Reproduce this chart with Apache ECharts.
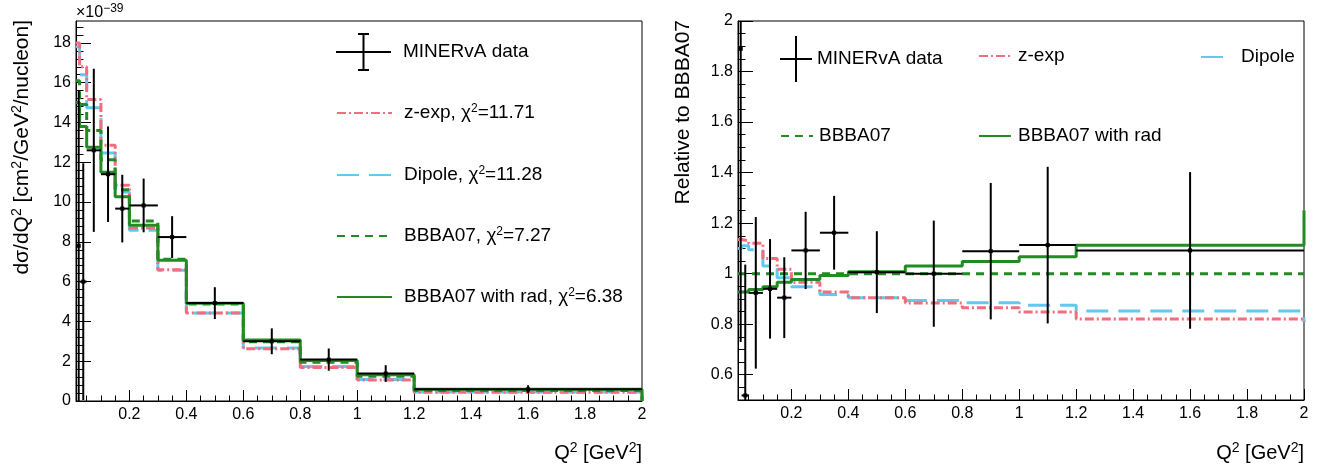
<!DOCTYPE html>
<html>
<head>
<meta charset="utf-8">
<script src="https://cdn.jsdelivr.net/npm/echarts@6.0.0/dist/echarts.min.js"></script>
<style>
  html, body { margin: 0; padding: 0; background: #fff; }
  #chart { width: 1326px; height: 470px; }
</style>
</head>
<body>
<div id="chart"></div>
<script>
// Q2 bin edges [GeV^2]
const binEdges = [0.0125, 0.025, 0.05, 0.1, 0.15, 0.2, 0.3, 0.4, 0.6, 0.8, 1.0, 1.2, 2.0];

// MINERvA data (x 1e-39 cm2/GeV2/nucleon)
const dataQ2 = [0.022, 0.038, 0.075, 0.125, 0.175, 0.25, 0.35, 0.5, 0.7, 0.9, 1.1, 1.6];
const dataXsec = [7.8, 6.0, 12.6, 11.4, 9.67, 9.83, 8.24, 4.92, 3.0, 2.08, 1.38, 0.59];
const dataErr = [7.8, 5.95, 4.1, 2.4, 1.7, 1.35, 1.05, 0.8, 0.65, 0.56, 0.42, 0.2];
// data / BBBA07
const dataRatio = [1.89, 0.518, 0.924, 0.94, 0.905, 1.092, 1.162, 1.006, 1.0, 1.089, 1.113, 1.092];
const dataRatioErr = [1.16, 0.518, 0.30, 0.197, 0.16, 0.153, 0.146, 0.162, 0.21, 0.27, 0.31, 0.31];

// model cross sections per bin
const zexpXsec = [18.0, 16.8, 15.15, 12.85, 10.84, 8.7, 6.6, 4.42, 2.63, 1.69, 1.05, 0.435];
const dipoleXsec = [17.8, 16.4, 14.74, 12.46, 10.5, 8.58, 6.57, 4.42, 2.66, 1.73, 1.085, 0.45];
const bbbaXsec = [16.1, 14.9, 13.6, 12.13, 10.62, 9.05, 7.12, 4.87, 2.98, 1.95, 1.24, 0.53];
const radXsec = [15.0, 13.8, 12.75, 11.5, 10.26, 8.84, 7.07, 4.91, 3.07, 2.04, 1.32, 0.59];

// model / BBBA07
const zexpRatio = [1.135, 1.13, 1.12, 1.06, 1.017, 0.966, 0.927, 0.905, 0.884, 0.865, 0.848, 0.821];
const dipoleRatio = [1.10, 1.11, 1.095, 1.03, 0.984, 0.948, 0.918, 0.905, 0.894, 0.885, 0.875, 0.852];
const bbbaRatio = [1, 1, 1, 1, 1, 1, 1, 1, 1, 1, 1, 1];
const radRatio = [0.927, 0.927, 0.9375, 0.948, 0.966, 0.977, 0.993, 1.008, 1.03, 1.048, 1.067, 1.112];
// where each ratio curve ends at Q2 = 2
const ratioEnds = { zexp: 0.81, dipole: 0.807, bbba: 1, rad: 1.25 };

const modelNames = ['z-exp', 'Dipole', 'BBBA07', 'BBBA07 with rad'];
const modelChi2 = ['11.71', '11.28', '7.27', '6.38'];

// axis ticks
const xTicks = [0.2, 0.4, 0.6, 0.8, 1, 1.2, 1.4, 1.6, 1.8, 2];
const yTicksXsec = [0, 2, 4, 6, 8, 10, 12, 14, 16, 18];
const yTicksRatio = [0.6, 0.8, 1, 1.2, 1.4, 1.6, 1.8, 2];

const FONT = '"Liberation Sans", Arial, Helvetica, sans-serif';
const colors = { zexp: '#f26d7d', dipole: '#62c8ef', bbba: '#238b23', rad: '#238b23' };
const X_MIN = 0.0125, X_MAX = 2;

function range(a, b, step) {
  const out = [];
  for (let v = a; v <= b + 1e-9; v += step) out.push(+v.toFixed(4));
  return out;
}
const fmt = v => String(+(+v).toFixed(2));

function steps(vals, endVal) {
  const pts = vals.map((v, i) => [binEdges[i], v]);
  const last = binEdges[binEdges.length - 1];
  pts.push([last, vals[vals.length - 1]]);
  pts.push([last, endVal]);
  return pts;
}

function errData(y, err) {
  return dataQ2.map((x, i) => [x, y[i], binEdges[i], binEdges[i + 1], err[i]]);
}

function renderErr(params, api) {
  const cs = params.coordSys;
  const clampY = v => Math.max(cs.y, Math.min(cs.y + cs.height, v));
  const x = api.value(0), y = api.value(1), e = api.value(4);
  const c = api.coord([x, y]);
  const l = api.coord([api.value(2), y]);
  const r = api.coord([api.value(3), y]);
  const t = api.coord([x, y + e]);
  const b = api.coord([x, y - e]);
  const st = { stroke: '#000', lineWidth: 2 };
  const kids = [{
    type: 'line',
    shape: { x1: c[0], y1: clampY(t[1]), x2: c[0], y2: clampY(b[1]) },
    style: st
  }];
  if (c[1] >= cs.y && c[1] <= cs.y + cs.height) {
    kids.push({ type: 'line', shape: { x1: l[0], y1: c[1], x2: r[0], y2: c[1] }, style: st });
    kids.push({ type: 'rect', shape: { x: c[0] - 2, y: c[1] - 2, width: 4, height: 4 }, style: { fill: '#000' } });
  }
  return { type: 'group', children: kids };
}

function xAxes(grid) {
  return [{
    type: 'value', gridIndex: grid, min: X_MIN, max: X_MAX, position: 'bottom',
    axisLine: { show: true, onZero: false, lineStyle: { color: '#000', width: 1 } },
    axisTick: { show: true, inside: true, length: 11, customValues: xTicks, lineStyle: { color: '#000' } },
    axisLabel: { show: true, customValues: xTicks, margin: 6, color: '#000', fontSize: 16, fontFamily: FONT, formatter: fmt },
    splitLine: { show: false }
  }, {
    type: 'value', gridIndex: grid, min: X_MIN, max: X_MAX, position: 'bottom',
    axisLine: { show: false, onZero: false },
    axisTick: { show: true, inside: true, length: 5.5, customValues: range(0.05, 1.95, 0.05), lineStyle: { color: '#000' } },
    axisLabel: { show: false },
    splitLine: { show: false }
  }];
}

function yAxes(grid, min, max, ticks, minorStep) {
  return [{
    type: 'value', gridIndex: grid, min: min, max: max, position: 'left',
    axisLine: { show: true, onZero: false, lineStyle: { color: '#000', width: 1 } },
    axisTick: { show: true, inside: true, length: 15, customValues: ticks, lineStyle: { color: '#000' } },
    axisLabel: { show: true, customValues: ticks, margin: 5, color: '#000', fontSize: 16, fontFamily: FONT, formatter: fmt },
    splitLine: { show: false }
  }, {
    type: 'value', gridIndex: grid, min: min, max: max, position: 'left',
    axisLine: { show: false, onZero: false },
    axisTick: { show: true, inside: true, length: 7.5, customValues: range(min, max, minorStep), lineStyle: { color: '#000' } },
    axisLabel: { show: false },
    splitLine: { show: false }
  }];
}

const lineDefs = [
  { key: 'dipole', name: 'Dipole', type: [22, 10] },
  { key: 'zexp', name: 'z-exp', type: [9, 3, 2, 3] },
  { key: 'bbba', name: 'BBBA07', type: [8, 6] },
  { key: 'rad', name: 'BBBA07 with rad', type: 'solid' }
];
const xsecVals = { zexp: zexpXsec, dipole: dipoleXsec, bbba: bbbaXsec, rad: radXsec };
const ratioVals = { zexp: zexpRatio, dipole: dipoleRatio, bbba: bbbaRatio, rad: radRatio };

const series = [];
lineDefs.forEach((d, k) => {
  series.push({
    type: 'line', name: d.name, xAxisIndex: 0, yAxisIndex: 0, step: 'end',
    data: steps(xsecVals[d.key], 0), symbol: 'none', showSymbol: false, z: 2 + k,
    lineStyle: { color: colors[d.key], width: 3, type: d.type }, itemStyle: { color: colors[d.key] }
  });
  series.push({
    type: 'line', name: d.name, xAxisIndex: 2, yAxisIndex: 2, step: 'end',
    data: steps(ratioVals[d.key], ratioEnds[d.key]), symbol: 'none', showSymbol: false, z: 2 + k,
    lineStyle: { color: colors[d.key], width: 3, type: d.type }, itemStyle: { color: colors[d.key] }
  });
});
series.push({
  type: 'custom', name: 'MINERvA data', xAxisIndex: 0, yAxisIndex: 0, z: 10,
  renderItem: renderErr, data: errData(dataXsec, dataErr), encode: { x: 0, y: 1 }, itemStyle: { color: '#000' }
});
series.push({
  type: 'custom', name: 'MINERvA data', xAxisIndex: 2, yAxisIndex: 2, z: 10,
  renderItem: renderErr, data: errData(dataRatio, dataRatioErr), encode: { x: 0, y: 1 }, itemStyle: { color: '#000' }
});

const sup = { fontSize: 12, verticalAlign: 'top', lineHeight: 20, fontFamily: FONT, color: '#000' };
const legendText = { fontSize: 19, lineHeight: 20, fontFamily: FONT, color: '#000', rich: { s: sup } };

function lineLegend(name, left, rowY, width, label, pad) {
  return {
    data: [name], left: left, top: rowY - 10, itemWidth: width, itemHeight: 20, selectedMode: false,
    itemStyle: { opacity: 0 }, padding: 0,
    textStyle: Object.assign({}, legendText, { padding: [0, 0, 0, pad] }),
    formatter: () => label
  };
}
function dataLegend(left, rowY, w, h, icon, pad) {
  return {
    data: [{ name: 'MINERvA data', icon: icon }], left: left, top: rowY - h / 2, itemWidth: w, itemHeight: h,
    selectedMode: false, padding: 0, itemStyle: { color: '#000', opacity: 1 },
    textStyle: Object.assign({}, legendText, { padding: [0, 0, 0, pad] })
  };
}
const chiLabel = i => modelNames[i] + ', χ{s|2}=' + modelChi2[i];

const legends = [
  dataLegend(336, 52, 55, 38, 'path://M0,18h55v2h-55z M26.5,0h2v38h-2z M22,0h11v2h-11z M22,36h11v2h-11z', 7),
  lineLegend('z-exp', 336, 113, 55, chiLabel(0), 7),
  lineLegend('Dipole', 336, 175, 55, chiLabel(1), 7),
  lineLegend('BBBA07', 336, 236, 55, chiLabel(2), 7),
  lineLegend('BBBA07 with rad', 336, 297, 55, chiLabel(3), 7),
  dataLegend(780, 59, 32, 46, 'path://M0,22h32v2h-32z M15,0h2v46h-2z', 0),
  lineLegend('z-exp', 978, 56, 32, 'z-exp', 2),
  lineLegend('Dipole', 1200, 57, 32, 'Dipole', 3),
  lineLegend('BBBA07', 780, 136, 32, 'BBBA07', 1),
  lineLegend('BBBA07 with rad', 978, 136, 32, 'BBBA07 with rad', 2)
];

const titleRich = {
  s: { fontSize: 14, verticalAlign: 'top', lineHeight: 24, fontFamily: FONT, fill: '#000' }
};
function title(text, x, y, rot, size) {
  return {
    type: 'text', x: x, y: y, rotation: rot, silent: true,
    style: {
      text: text, fill: '#000', fontSize: size, fontFamily: FONT, lineHeight: 24,
      align: 'right', verticalAlign: 'middle', rich: titleRich
    }
  };
}

const option = {
  animation: false,
  backgroundColor: '#fff',
  grid: [
    { left: 76, top: 21, width: 566, height: 380, show: true, borderColor: '#000', borderWidth: 1, backgroundColor: 'transparent', outerBoundsMode: 'none' },
    { left: 738, top: 21, width: 566, height: 379, show: true, borderColor: '#000', borderWidth: 1, backgroundColor: 'transparent', outerBoundsMode: 'none' }
  ],
  xAxis: xAxes(0).concat(xAxes(1)),
  yAxis: yAxes(0, 0, 19.1, yTicksXsec, 0.4).concat(yAxes(1, 0.5, 2, yTicksRatio, 0.05)),
  legend: legends,
  series: series,
  graphic: [
    title('Q{s|2} [GeV{s|2}]', 642, 453, 0, 20),
    title('Q{s|2} [GeV{s|2}]', 1304, 453, 0, 20),
    title('dσ/dQ{s|2} [cm{s|2}/GeV{s|2}/nucleon]', 22, 20, Math.PI / 2, 21),
    title('Relative to BBBA07', 683, 20, Math.PI / 2, 21),
    {
      type: 'text', x: 76, y: 13, silent: true,
      style: {
        text: '×10{s|−39}', fill: '#000', fontSize: 16, fontFamily: FONT, lineHeight: 20,
        align: 'left', verticalAlign: 'middle',
        rich: { s: { fontSize: 12, verticalAlign: 'top', lineHeight: 20, fontFamily: FONT, fill: '#000' } }
      }
    }
  ]
};

const chart = echarts.init(document.getElementById('chart'), null, { renderer: 'canvas' });
chart.setOption(option);
</script>
</body>
</html>
